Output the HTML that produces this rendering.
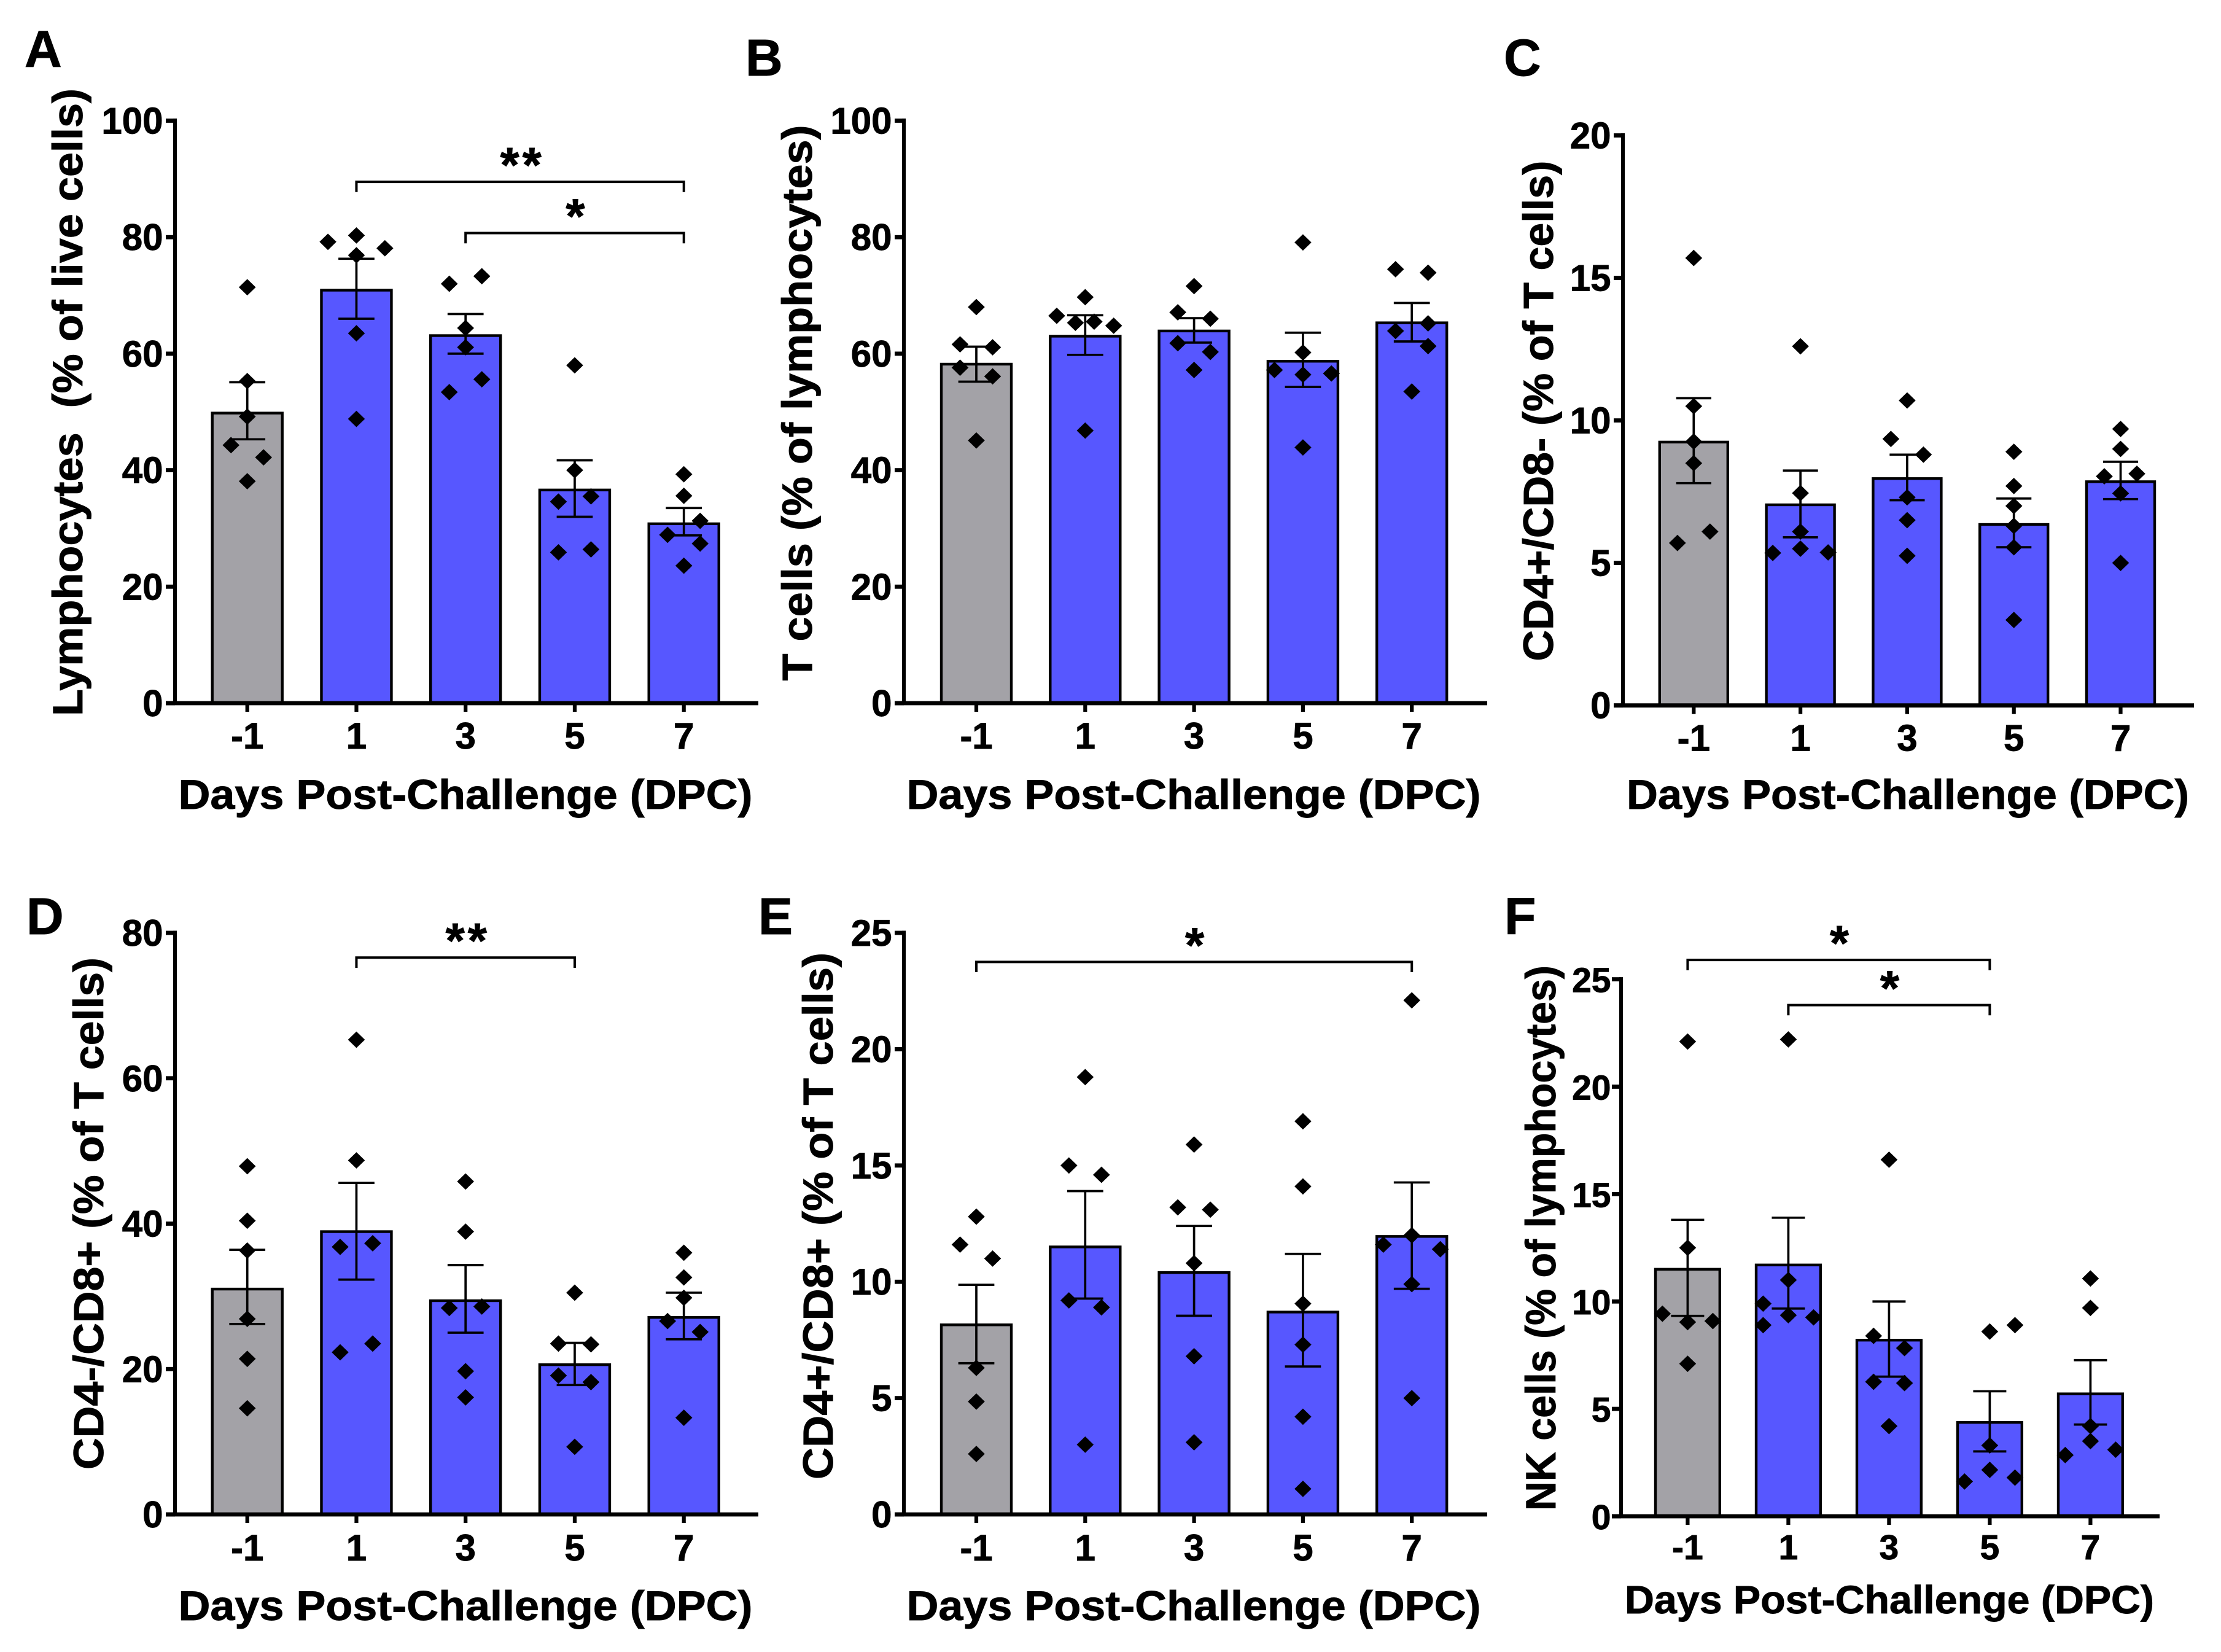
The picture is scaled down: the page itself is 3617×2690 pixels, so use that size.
<!DOCTYPE html>
<html lang="en">
<head>
<meta charset="utf-8">
<title>Lymphocyte populations by days post-challenge</title>
<style>
html,body{margin:0;padding:0;background:#fff;}
svg{display:block;}
text{font-family:"Liberation Sans",Arial,sans-serif;font-weight:700;fill:#000;stroke:#000;stroke-width:.9px;white-space:pre;}
</style>
</head>
<body>
<svg id="figure" xmlns="http://www.w3.org/2000/svg" width="3617" height="2690" viewBox="0 0 3617 2690">
<rect x="0" y="0" width="3617" height="2690" fill="#ffffff"/>

<text x="40" y="109" font-size="84">A</text>
<text x="1214" y="123" font-size="84">B</text>
<text x="2449" y="123" font-size="84">C</text>
<text x="43" y="1521" font-size="84">D</text>
<text x="1235" y="1521" font-size="84">E</text>
<text x="2450" y="1521" font-size="84">F</text>

<text transform="translate(134 655) rotate(-90)" text-anchor="middle" font-size="69" textLength="1022" lengthAdjust="spacingAndGlyphs">Lymphocytes  (% of live cells)</text>
<text transform="translate(1322 656) rotate(-90)" text-anchor="middle" font-size="69" textLength="905" lengthAdjust="spacingAndGlyphs">T cells (% of lymphocytes)</text>
<text transform="translate(2529 669) rotate(-90)" text-anchor="middle" font-size="69" textLength="815" lengthAdjust="spacingAndGlyphs">CD4+/CD8- (% of T cells)</text>
<text transform="translate(168 1976) rotate(-90)" text-anchor="middle" font-size="69" textLength="834" lengthAdjust="spacingAndGlyphs">CD4-/CD8+ (% of T cells)</text>
<text transform="translate(1356 1980) rotate(-90)" text-anchor="middle" font-size="69" textLength="858" lengthAdjust="spacingAndGlyphs">CD4+/CD8+ (% of T cells)</text>
<text transform="translate(2533 2016) rotate(-90)" text-anchor="middle" font-size="69" textLength="888" lengthAdjust="spacingAndGlyphs">NK cells (% of lymphocytes)</text>

<text x="758" y="1317" text-anchor="middle" font-size="68" textLength="935" lengthAdjust="spacingAndGlyphs">Days Post-Challenge (DPC)</text>
<text x="1944" y="1317" text-anchor="middle" font-size="68" textLength="935" lengthAdjust="spacingAndGlyphs">Days Post-Challenge (DPC)</text>
<text x="3107" y="1317" text-anchor="middle" font-size="68" textLength="916" lengthAdjust="spacingAndGlyphs">Days Post-Challenge (DPC)</text>
<text x="758" y="2638" text-anchor="middle" font-size="68" textLength="935" lengthAdjust="spacingAndGlyphs">Days Post-Challenge (DPC)</text>
<text x="1944" y="2638" text-anchor="middle" font-size="68" textLength="935" lengthAdjust="spacingAndGlyphs">Days Post-Challenge (DPC)</text>
<text x="3077" y="2627" text-anchor="middle" font-size="64" textLength="862" lengthAdjust="spacingAndGlyphs">Days Post-Challenge (DPC)</text>
</svg>

<script>
// Shared categories
const categories = ['-1', '1', '3', '5', '7'];

// Panel A: Lymphocytes
const aTicks = [0, 20, 40, 60, 80, 100];
const aMeans = [49.8, 70.9, 63.1, 36.6, 30.8];
const aErrHigh = [55.1, 76.3, 66.8, 41.7, 33.5];
const aErrLow = [45.3, 66.0, 60.0, 32.0, 28.8];
const aPoints = [
  [71.4, 55.3, 49.2, 44.3, 42.2, 38.1],
  [80.3, 79.2, 78.1, 76.9, 63.5, 48.8],
  [73.3, 72.0, 64.4, 61.1, 55.6, 53.4],
  [58.0, 40.0, 35.5, 34.6, 26.4, 25.9],
  [39.3, 35.6, 31.3, 28.9, 27.4, 23.6]
];
const aJitter = [
  [0, 0, 0, -1, 1, 0],
  [0, -1.75, 1.75, 0, 0, 0],
  [1, -1, 0, 0, 1, -1],
  [0, 0, 1, -1, 1, -1],
  [0, 0, 1, -1, 1, 0]
];
const aBrackets = [
  { from: 1, to: 4, value: 89.5, label: '**' },
  { from: 2, to: 4, value: 80.7, label: '*' }
];

// Panel B: T cells
const bTicks = [0, 20, 40, 60, 80, 100];
const bMeans = [58.2, 63.0, 63.9, 58.7, 65.3];
const bErrHigh = [61.2, 66.6, 66.1, 63.6, 68.7];
const bErrLow = [55.2, 59.8, 61.9, 54.3, 62.1];
const bPoints = [
  [68.0, 61.6, 61.1, 57.6, 56.1, 45.1],
  [69.7, 66.5, 65.3, 65.5, 64.8, 46.8],
  [71.6, 67.1, 66.0, 61.8, 60.3, 57.2],
  [79.1, 60.2, 57.2, 56.4, 56.6, 43.9],
  [74.5, 73.9, 65.2, 63.9, 61.3, 53.5]
];
const bJitter = [
  [0, -1, 1, -1, 1, 0],
  [0, -1.75, -0.6, 0.55, 1.75, 0],
  [0, -1, 1, -1, 1, 0],
  [0, 0, -1.75, 0, 1.75, 0],
  [-1, 1, 1, -1, 1, 0]
];
const bBrackets = [];

// Panel C: CD4+/CD8-
const cTicks = [0, 5, 10, 15, 20];
const cMeans = [9.24, 7.04, 7.96, 6.35, 7.85];
const cErrHigh = [10.78, 8.24, 8.8, 7.26, 8.55];
const cErrLow = [7.8, 5.9, 7.2, 5.55, 7.24];
const cPoints = [
  [15.7, 10.5, 9.26, 8.5, 6.1, 5.7],
  [12.6, 7.45, 6.1, 5.5, 5.35, 5.37],
  [10.7, 9.35, 8.8, 7.3, 6.5, 5.25],
  [8.9, 7.7, 7.0, 6.3, 5.55, 3.0],
  [9.7, 9.0, 8.13, 8.04, 7.44, 5.0]
];
const cJitter = [
  [0, 0, 0, 0, 1, -1],
  [0, 0, 0, 0, -1.7, 1.7],
  [0, -1, 1, 0, 0, 0],
  [0, 0, 0, 0, 0, 0],
  [0, 0, 1, -1, 0, 0]
];
const cBrackets = [];

// Panel D: CD4-/CD8+
const dTicks = [0, 20, 40, 60, 80];
const dMeans = [31.0, 38.9, 29.4, 20.6, 27.1];
const dErrHigh = [36.4, 45.6, 34.3, 23.6, 30.5];
const dErrLow = [26.2, 32.3, 25.0, 17.8, 24.1];
const dPoints = [
  [47.9, 40.4, 36.3, 26.9, 21.4, 14.6],
  [65.3, 48.7, 37.3, 36.8, 23.5, 22.3],
  [45.8, 38.9, 28.6, 28.4, 19.7, 16.1],
  [30.5, 23.5, 23.4, 19.1, 18.2, 9.3],
  [36.0, 32.6, 29.8, 26.6, 25.1, 13.3]
];
const dJitter = [
  [0, 0, 0, 0, 0, 0],
  [0, 0, 1, -1, 1, -1],
  [0, 0, 1, -1, 0, 0],
  [0, -1, 1, -1, 1, 0],
  [0, 0, 0, -1, 1, 0]
];
const dBrackets = [
  { from: 1, to: 3, value: 76.6, label: '**' }
];

// Panel E: CD4+/CD8+
const eTicks = [0, 5, 10, 15, 20, 25];
const eMeans = [8.15, 11.5, 10.4, 8.7, 11.95];
const eErrHigh = [9.87, 13.9, 12.4, 11.2, 14.27];
const eErrLow = [6.5, 9.28, 8.54, 6.36, 9.7];
const ePoints = [
  [12.8, 11.6, 11.0, 6.3, 4.85, 2.6],
  [18.8, 15.0, 14.6, 9.2, 8.9, 3.0],
  [15.9, 13.2, 13.1, 10.8, 6.8, 3.1],
  [16.9, 14.1, 9.06, 7.3, 4.2, 1.1],
  [22.1, 12.0, 11.6, 11.4, 9.9, 5.0]
];
const eJitter = [
  [0, -1, 1, 0, 0, 0],
  [0, -1, 1, -1, 1, 0],
  [0, -1, 1, 0, 0, 0],
  [0, 0, 0, 0, 0, 0],
  [0, 0, -1.75, 1.75, 0, 0]
];
const eBrackets = [
  { from: 0, to: 4, value: 23.75, label: '*' }
];

// Panel F: NK cells
const fTicks = [0, 5, 10, 15, 20, 25];
const fMeans = [11.5, 11.7, 8.2, 4.37, 5.7];
const fErrHigh = [13.8, 13.9, 10.0, 5.82, 7.27];
const fErrLow = [9.33, 9.67, 6.5, 3.02, 4.27];
const fPoints = [
  [22.1, 12.5, 9.43, 9.04, 9.09, 7.1],
  [22.2, 11.0, 9.9, 9.36, 9.26, 8.9],
  [16.6, 8.4, 7.83, 6.26, 6.2, 4.2],
  [8.9, 8.6, 3.3, 2.16, 1.8, 1.62],
  [11.07, 9.7, 4.2, 3.5, 3.1, 2.85]
];
const fJitter = [
  [0, 0, -1.55, 0, 1.55, 0],
  [0, 0, -1.55, 0, 1.55, -1.55],
  [0, -0.95, 0.95, -0.95, 0.95, 0],
  [1.55, 0, 0, 0, 1.55, -1.55],
  [0, 0, 0, 0, 1.55, -1.55]
];
const fBrackets = [
  { from: 0, to: 3, value: 25.9, label: '*' },
  { from: 1, to: 3, value: 23.8, label: '*' }
];

// Layout of each panel frame (data lives in the arrays above)
const panels = [
  { id: 'a', axisX: 285, y0: 1145, yTop: 196.5, cx0: 402.7, step: 177.75, half: 57, xEnd: 1235, tickBase: 1219, tickFont: 60, labelGap: 19.5, ticks: aTicks, means: aMeans, hi: aErrHigh, lo: aErrLow, points: aPoints, jitter: aJitter, brackets: aBrackets },
  { id: 'b', axisX: 1472, y0: 1145, yTop: 196.5, cx0: 1590, step: 177.3, half: 57, xEnd: 2422, tickBase: 1219, tickFont: 60, labelGap: 19.5, ticks: bTicks, means: bMeans, hi: bErrHigh, lo: bErrLow, points: bPoints, jitter: bJitter, brackets: bBrackets },
  { id: 'c', axisX: 2643, y0: 1148.7, yTop: 220.5, cx0: 2758.3, step: 173.8, half: 55.5, xEnd: 3573, tickBase: 1222.5, tickFont: 60, labelGap: 19.5, ticks: cTicks, means: cMeans, hi: cErrHigh, lo: cErrLow, points: cPoints, jitter: cJitter, brackets: cBrackets },
  { id: 'd', axisX: 285, y0: 2466, yTop: 1519, cx0: 402.7, step: 177.75, half: 57, xEnd: 1235, tickBase: 2541, tickFont: 60, labelGap: 19.5, ticks: dTicks, means: dMeans, hi: dErrHigh, lo: dErrLow, points: dPoints, jitter: dJitter, brackets: dBrackets },
  { id: 'e', axisX: 1472, y0: 2466, yTop: 1519, cx0: 1590, step: 177.3, half: 57, xEnd: 2422, tickBase: 2541, tickFont: 60, labelGap: 19.5, ticks: eTicks, means: eMeans, hi: eErrHigh, lo: eErrLow, points: ePoints, jitter: eJitter, brackets: eBrackets },
  { id: 'f', axisX: 2640, y0: 2469, yTop: 1594.6, cx0: 2748.4, step: 164, half: 52.4, xEnd: 3517, tickBase: 2539, tickFont: 57, labelGap: 16.5, ticks: fTicks, means: fMeans, hi: fErrHigh, lo: fErrLow, points: fPoints, jitter: fJitter, brackets: fBrackets }
];

const grayFill = '#a3a2a7';
const blueFill = '#5757ff';
const jitterUnit = 26.5;
const svg = document.getElementById('figure');
const NS = 'http://www.w3.org/2000/svg';

function makeEl(tag, props) {
  const el = document.createElementNS(NS, tag);
  for (const key in props) el.setAttribute(key, props[key]);
  return el;
}
function makeLine(x1, y1, x2, y2, width) {
  return makeEl('line', { x1: x1, y1: y1, x2: x2, y2: y2, stroke: '#000', 'stroke-width': width });
}

panels.forEach(function (p) {
  const yMax = p.ticks[p.ticks.length - 1];
  const yScale = function (v) { return p.y0 - (v / yMax) * (p.y0 - p.yTop); };
  const xScale = function (i) { return p.cx0 + i * p.step; };

  const group = makeEl('g', {});
  
  
  svg.appendChild(group);

  // Bars
  p.means.forEach(function (m, i) {
    const cx = xScale(i);
    const bar = makeEl('rect', {
      x: cx - p.half, y: yScale(m), width: 2 * p.half, height: p.y0 - yScale(m),
      fill: i === 0 ? grayFill : blueFill, stroke: '#000', 'stroke-width': 4.4
    });
    
    
    group.appendChild(bar);
  });

  // Error bars
  p.means.forEach(function (m, i) {
    const cx = xScale(i);
    const capHalf = p.half * 0.515;
    const err = makeEl('g', {});
    
    
    err.appendChild(makeLine(cx, yScale(p.hi[i]), cx, yScale(p.lo[i]), 3.7));
    err.appendChild(makeLine(cx - capHalf, yScale(p.hi[i]), cx + capHalf, yScale(p.hi[i]), 3.7));
    err.appendChild(makeLine(cx - capHalf, yScale(p.lo[i]), cx + capHalf, yScale(p.lo[i]), 3.7));
    group.appendChild(err);
  });

  // Data points
  p.points.forEach(function (series, i) {
    series.forEach(function (v, j) {
      const px = xScale(i) + p.jitter[i][j] * jitterUnit;
      const py = yScale(v);
      const dia = makeEl('polygon', {
        points: px + ',' + (py - 13.4) + ' ' + (px + 13.8) + ',' + py + ' ' + px + ',' + (py + 13.4) + ' ' + (px - 13.8) + ',' + py,
        fill: '#000'
      });
      
      
      group.appendChild(dia);
    });
  });

  // Y axis
  const yAxis = makeLine(p.axisX, p.yTop - 3.5, p.axisX, p.y0 + 3, 6.2);
  
  
  group.appendChild(yAxis);

  p.ticks.forEach(function (t) {
    const tick = makeLine(p.axisX - 15, yScale(t), p.axisX, yScale(t), 6.8);
    
    
    group.appendChild(tick);
    const lab = makeEl('text', { x: p.axisX - p.labelGap, y: yScale(t) + 21, 'text-anchor': 'end', 'font-size': p.tickFont });
    
    
    lab.textContent = t;
    group.appendChild(lab);
  });

  // X axis
  const xAxis = makeLine(p.axisX - 15, p.y0, p.xEnd, p.y0, 6.8);
  
  
  group.appendChild(xAxis);

  categories.forEach(function (c, i) {
    const cx = xScale(i);
    const tick = makeLine(cx, p.y0, cx, p.y0 + 14, 6.2);
    
    
    group.appendChild(tick);
    const lab = makeEl('text', { x: cx, y: p.tickBase, 'text-anchor': 'middle', 'font-size': p.tickFont });
    
    
    lab.textContent = c;
    group.appendChild(lab);
  });

  // Significance brackets
  p.brackets.forEach(function (b) {
    const by = yScale(b.value);
    const x1 = xScale(b.from);
    const x2 = xScale(b.to);
    const path = makeEl('path', {
      d: 'M' + x1 + ' ' + (by + 16.7) + 'V' + by + 'H' + x2 + 'V' + (by + 16.7),
      fill: 'none', stroke: '#000', 'stroke-width': 4
    });
    
    
    group.appendChild(path);
    const star = makeEl('text', { x: (x1 + x2) / 2 + 3.5, y: by, 'text-anchor': 'middle', 'font-size': 80, 'letter-spacing': 5 });
    
    
    star.textContent = b.label;
    group.appendChild(star);
  });
});
</script>
</body>
</html>
